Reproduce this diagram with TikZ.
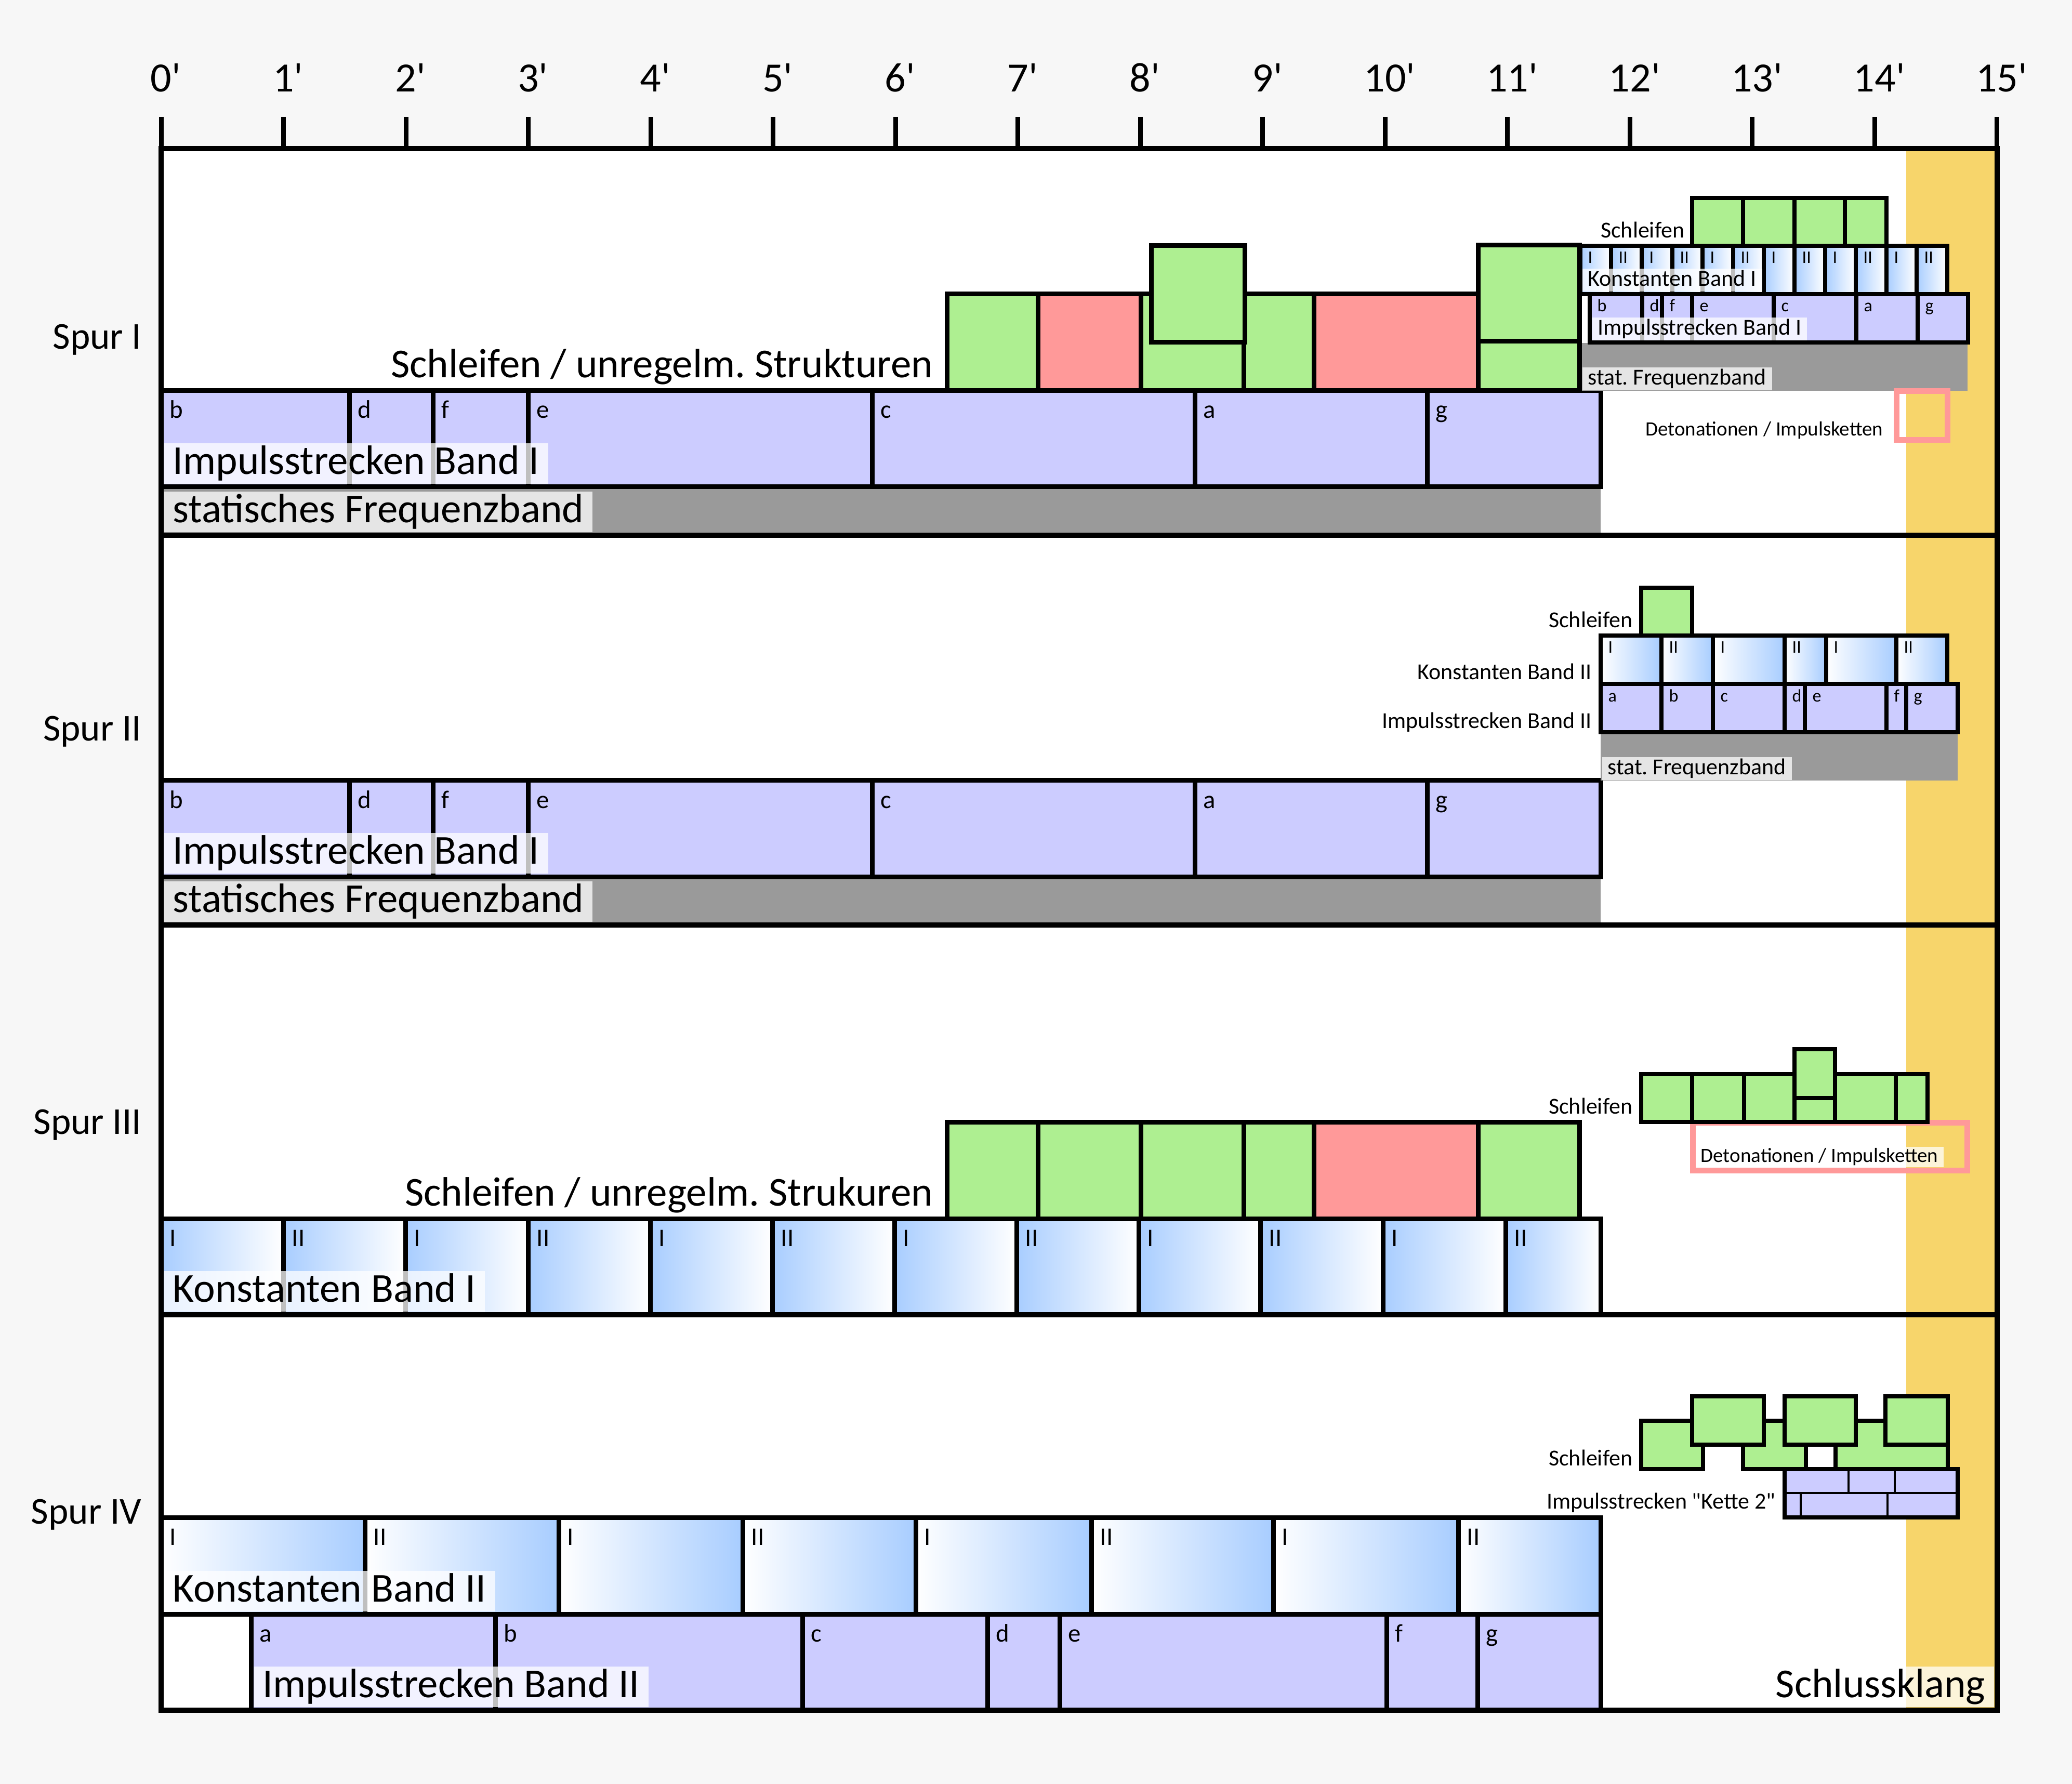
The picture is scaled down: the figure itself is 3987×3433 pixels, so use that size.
\documentclass[tikz,border=0pt]{standalone}
\usepackage{fontspec}
\setmainfont{Carlito}[Ligatures=TeXOff]
\definecolor{bgc}{RGB}{247,247,247}
\definecolor{lav}{RGB}{204,204,255}
\definecolor{grayband}{RGB}{154,154,154}
\definecolor{grn}{RGB}{174,239,145}
\definecolor{pnk}{RGB}{255,153,153}
\definecolor{ylw}{RGB}{247,213,107}
\definecolor{kblue}{RGB}{168,205,255}
\newcommand\myfs[1]{\fontsize{#1}{#1}\selectfont}
\begin{document}
\frenchspacing
\begin{tikzpicture}[x=0.1mm,y=-0.1mm,
  bl/.style={draw=black,line width=0.9mm},
  ml/.style={draw=black,line width=0.75mm},
  fr/.style={draw=black,line width=1.05mm},
  thin/.style={draw=black,line width=0.4mm},
  rulerfont/.style={font=\myfs{22.8}},
  spurfont/.style={font=\myfs{20.8}},
  bigfont/.style={font=\myfs{22.5}},
  segfont/.style={font=\myfs{13.9}},
  minifont/.style={font=\myfs{12.5}},
  minisegfont/.style={font=\myfs{9.7}},
  detofont/.style={font=\myfs{11.1}},
  seglab/.style={anchor=base west,inner sep=0pt,segfont},
  minilab/.style={anchor=base west,inner sep=0pt,minisegfont},
  biglab/.style={bigfont,fill=white,fill opacity=0.75,text opacity=1,inner ysep=0pt,inner xsep=1.7mm,text height=5.97mm,text depth=1.88mm},
  minibg/.style={minifont,fill=white,fill opacity=0.75,text opacity=1,inner ysep=0pt,inner xsep=1.1mm,text height=3.35mm,text depth=1.05mm},
  detobg/.style={detofont,fill=white,fill opacity=0.75,text opacity=1,inner ysep=0pt,inner xsep=1.0mm,text height=2.96mm,text depth=0.94mm},
  plain/.style={inner sep=0pt}
]
\useasboundingbox (0,0) rectangle (3987,3433);
\fill[bgc] (0,0) rectangle (3987,3433);
\fill[white] (310,286) rectangle (3843,3291);
\fill[ylw] (3668,286) rectangle (3843,3291);

% ---------- Spur I ----------
\fill[grayband] (310,937) rectangle (3080,1030);
\foreach \a/\b/\l in {310/672/b,672/833/d,833/1016/f,1016/1678/e,1678/2299/c,2299/2746/a,2746/3080/g}{
  \filldraw[bl,fill=lav] (\a,752) rectangle (\b,937);
  \node[seglab] (sIi\l) at ({\a+16},805) {\l};
}
\node[biglab,anchor=south west] (sIimp) at (315,932) {Impulsstrecken Band I};
\node[biglab,anchor=south west] (sIstat) at (315,1025) {statisches Frequenzband};
\foreach \a/\b/\c in {1822/1997/grn,1997/2195/pnk,2195/2393/grn,2393/2528/grn,2528/2844/pnk,2844/3039/grn}
  \filldraw[bl,fill=\c] (\a,566) rectangle (\b,752);
\filldraw[bl,fill=grn] (2215,473) rectangle (2395,659);
\filldraw[bl,fill=grn] (2844,472) rectangle (3039,657);
\node[bigfont,plain,anchor=base east] (sIschl) at (1796,727) {Schleifen / unregelm. Strukturen};
% mini
\foreach \a/\b in {3256/3354,3354/3453,3453/3550,3550/3630}
  \filldraw[ml,fill=grn] (\a,381) rectangle (\b,473);
\node[minifont,plain,anchor=base east] (sImschl) at (3242,458) {Schleifen};
\fill[grayband] (3044,660) rectangle (3786,752);
\foreach \a/\b/\l [count=\n] in {3041/3100/I,3100/3159/II,3159/3218/I,3218/3276/II,3276/3335/I,3335/3394/II,3394/3453/I,3453/3512/II,3512/3571/I,3571/3630/II,3630/3688/I,3688/3747/II}{
  \shade[left color=kblue,right color=white] (\a,473) rectangle (\b,566);
  \draw[ml] (\a,473) rectangle (\b,566);
  \node[minilab] (sImk\n) at ({\a+14},507) {\l};
}
\node[minibg,anchor=south west] (sImkon) at (3044,562) {Konstanten Band I};
\foreach \a/\b/\l in {3059/3160/b,3160/3198/d,3198/3256/f,3256/3413/e,3413/3572/c,3572/3690/a,3690/3787/g}{
  \filldraw[ml,fill=lav] (\a,566) rectangle (\b,659);
  \node[minilab] (sImi\l) at ({\a+14},600) {\l};
}
\node[minibg,anchor=south west] (sImimp) at (3063,656) {Impulsstrecken Band I};
\node[minibg,anchor=south west] (sImstat) at (3044,752) {stat. Frequenzband};
\draw[draw=pnk,line width=1.1mm] (3649,753) rectangle (3747,847);
\node[detofont,plain,anchor=base east] (sIdeto) at (3624,839) {Detonationen / Impulsketten};

% ---------- Spur II ----------
\fill[grayband] (310,1687) rectangle (3080,1780);
\foreach \a/\b/\l in {310/672/b,672/833/d,833/1016/f,1016/1678/e,1678/2299/c,2299/2746/a,2746/3080/g}{
  \filldraw[bl,fill=lav] (\a,1502) rectangle (\b,1687);
  \node[seglab] (sIIi\l) at ({\a+16},1555) {\l};
}
\node[biglab,anchor=south west] (sIIimp) at (315,1682) {Impulsstrecken Band I};
\node[biglab,anchor=south west] (sIIstat) at (315,1775) {statisches Frequenzband};
% mini
\filldraw[ml,fill=grn] (3158,1131) rectangle (3256,1223);
\node[minifont,plain,anchor=base east] (sIImschl) at (3142,1208) {Schleifen};
\foreach \a/\b/\l [count=\n] in {3080/3197/I,3197/3296/II,3296/3434/I,3434/3514/II,3514/3649/I,3649/3747/II}{
  \shade[left color=white,right color=kblue] (\a,1223) rectangle (\b,1316);
  \draw[ml] (\a,1223) rectangle (\b,1316);
  \node[minilab] (sIImk\n) at ({\a+14},1257) {\l};
}
\node[minifont,plain,anchor=base east] (sIImkon) at (3063,1308) {Konstanten Band II};
\foreach \a/\b/\l in {3080/3197/a,3197/3296/b,3296/3434/c,3434/3473/d,3473/3630/e,3630/3668/f,3668/3767/g}{
  \filldraw[ml,fill=lav] (\a,1316) rectangle (\b,1409);
  \node[minilab] (sIImi\l) at ({\a+14},1351) {\l};
}
\node[minifont,plain,anchor=base east] (sIImimp) at (3063,1402) {Impulsstrecken Band II};
\fill[grayband] (3080,1413) rectangle (3767,1502);
\node[minibg,anchor=south west] (sIImstat) at (3082,1502) {stat. Frequenzband};

% ---------- Spur III ----------
\foreach \a/\b/\l [count=\n] in {310/545/I,545/780/II,780/1016/I,1016/1251/II,1251/1486/I,1486/1721/II,1721/1956/I,1956/2191/II,2191/2425/I,2425/2661/II,2661/2897/I,2897/3080/II}{
  \shade[left color=kblue,right color=white] (\a,2345) rectangle (\b,2530);
  \draw[bl] (\a,2345) rectangle (\b,2530);
  \node[seglab] (sIIIk\n) at ({\a+16},2398) {\l};
}
\node[biglab,anchor=south west] (sIIIkon) at (315,2525) {Konstanten Band I};
\foreach \a/\b/\c in {1822/1997/grn,1997/2195/grn,2195/2393/grn,2393/2528/grn,2528/2844/pnk,2844/3039/grn}
  \filldraw[bl,fill=\c] (\a,2159) rectangle (\b,2345);
\node[bigfont,plain,anchor=base east] (sIIIschl) at (1796,2320) {Schleifen / unregelm. Strukuren};
% mini
\draw[draw=pnk,line width=1.1mm] (3257,2160) rectangle (3785,2252);
\node[detobg,anchor=south west] (sIIIdeto) at (3262,2247) {Detonationen / Impulsketten};
\foreach \a/\b in {3158/3256,3256/3356,3356/3453,3453/3531,3531/3648,3648/3709}
  \filldraw[ml,fill=grn] (\a,2067) rectangle (\b,2159);
\filldraw[ml,fill=grn] (3453,2019) rectangle (3531,2113);
\node[minifont,plain,anchor=base east] (sIIImschl) at (3142,2143) {Schleifen};

% ---------- Spur IV ----------
\foreach \a/\b/\l [count=\n] in {310/702/I,702/1075/II,1075/1429/I,1429/1762/II,1762/2100/I,2100/2450/II,2450/2806/I,2806/3080/II}{
  \shade[left color=white,right color=kblue] (\a,2920) rectangle (\b,3106);
  \draw[bl] (\a,2920) rectangle (\b,3106);
  \node[seglab] (sIVk\n) at ({\a+16},2973) {\l};
}
\node[biglab,anchor=south west] (sIVkon) at (315,3102) {Konstanten Band II};
\draw[bl] (310,3106) rectangle (483,3291);
\foreach \a/\b/\l in {483/953/a,953/1544/b,1544/1900/c,1900/2039/d,2039/2668/e,2668/2843/f,2843/3080/g}{
  \filldraw[bl,fill=lav] (\a,3106) rectangle (\b,3291);
  \node[seglab] (sIVi\l) at ({\a+16},3159) {\l};
}
\node[biglab,anchor=south west] (sIVimp) at (488,3286) {Impulsstrecken Band II};
% mini
\foreach \a/\b in {3158/3277,3354/3475,3532/3748}
  \filldraw[ml,fill=grn] (\a,2734) rectangle (\b,2827);
\foreach \a/\b in {3256/3394,3434/3571,3628/3748}
  \filldraw[ml,fill=grn] (\a,2687) rectangle (\b,2780);
\node[minifont,plain,anchor=base east] (sIVmschl) at (3142,2820) {Schleifen};
\fill[lav] (3434,2827) rectangle (3767,2920);
\draw[thin] (3434,2873) -- (3767,2873);
\draw[thin] (3557,2827) -- (3557,2873);
\draw[thin] (3646,2827) -- (3646,2873);
\draw[thin] (3465,2873) -- (3465,2920);
\draw[thin] (3632,2873) -- (3632,2920);
\draw[ml] (3434,2827) rectangle (3767,2920);
\node[minifont,plain,anchor=base east] (sIVkette) at (3417,2903) {Impulsstrecken "Kette 2"};
\node[biglab,anchor=south east] (schluss) at (3838,3286) {Schlussklang};

% ---------- frame, lanes, ruler ----------
\foreach \y in {1030,1780,2530} \draw[fr] (310,\y) -- (3843,\y);
\draw[fr] (310,286) rectangle (3843,3291);
\foreach \i in {0,...,15}{
  \draw[line width=0.9mm] ({310+235.53*\i},225) -- ({310+235.53*\i},286);
  \node[rulerfont,anchor=base] (t\i) at ({310+235.53*\i},177) {\phantom{'}\i'};
}
\node[spurfont,plain,anchor=base east] (spurI) at (273,672) {Spur I};
\node[spurfont,plain,anchor=base east] (spurII) at (273,1426) {Spur II};
\node[spurfont,plain,anchor=base east] (spurIII) at (273,2182) {Spur III};
\node[spurfont,plain,anchor=base east] (spurIV) at (273,2932) {Spur IV};
\end{tikzpicture}
\end{document}
